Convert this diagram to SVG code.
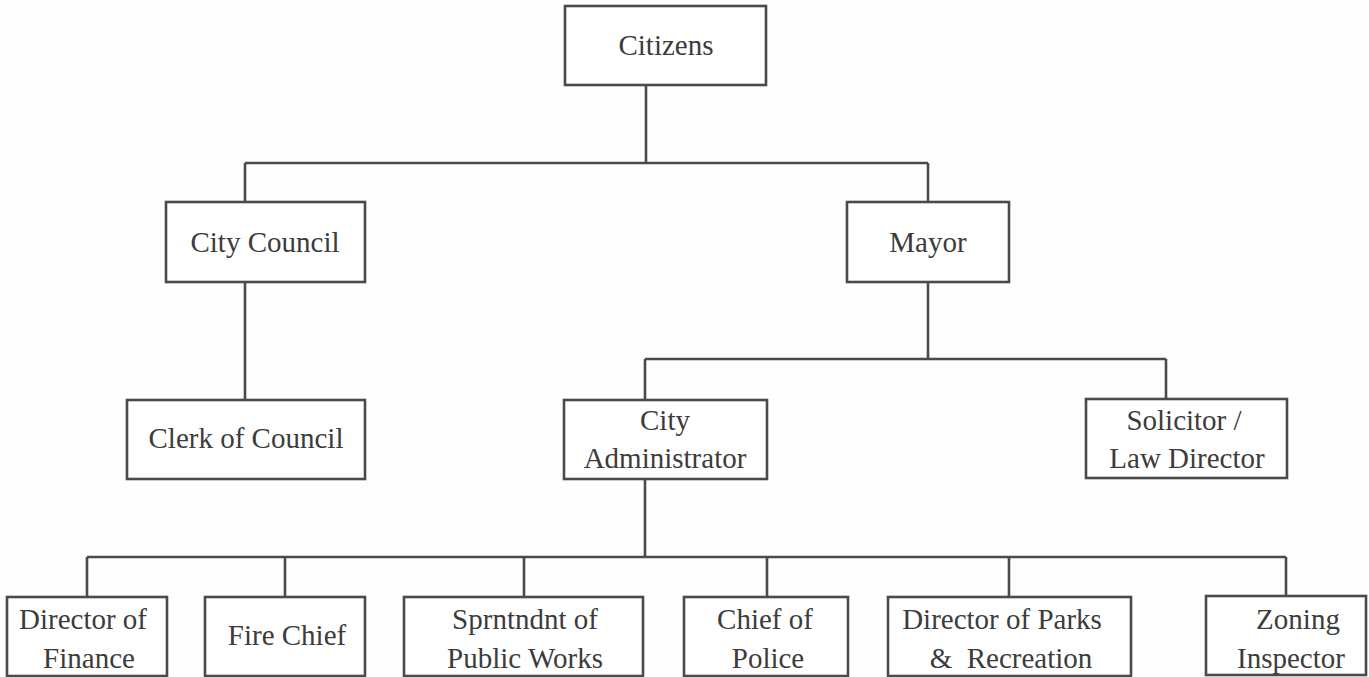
<svg xmlns="http://www.w3.org/2000/svg" width="1369" height="677" viewBox="0 0 1369 677">
<style>
.box{fill:#ffffff;stroke:#4a4a4a;stroke-width:2.6}
.lbl{font-family:"Liberation Serif","Times New Roman",serif;font-size:29px;fill:#3c3c3c;text-anchor:middle}
.conn{fill:none;stroke:#4a4a4a;stroke-width:2.6}
</style>
<rect width="1369" height="677" fill="#fefefe"/>
<g id="connectors">
<path class="conn" d="M646,85 V163 M245,163 H928 M245,163 V202 M928,163 V202"/>
<path class="conn" d="M245,282 V400"/>
<path class="conn" d="M928,282 V359 M645,359 H1166 M645,359 V400 M1166,359 V399"/>
<path class="conn" d="M645,479 V557 M87,557 H1286 M87,557 V597 M285,557 V597 M524,557 V597 M767,557 V597 M1009,557 V597 M1286,557 V596"/>
</g>
<g id="citizens"><rect class="box" x="565" y="6" width="201" height="79"/><text class="lbl" x="666" y="55">Citizens</text></g>
<g id="city-council"><rect class="box" x="166" y="202" width="199" height="80"/><text class="lbl" x="265" y="252">City Council</text></g>
<g id="mayor"><rect class="box" x="847" y="202" width="162" height="80"/><text class="lbl" x="928" y="252">Mayor</text></g>
<g id="clerk"><rect class="box" x="127" y="400" width="238" height="79"/><text class="lbl" x="246" y="448">Clerk of Council</text></g>
<g id="city-administrator"><rect class="box" x="564" y="400" width="203" height="79"/><text class="lbl" x="665" y="430">City</text><text class="lbl" x="665" y="468">Administrator</text></g>
<g id="solicitor"><rect class="box" x="1086" y="399" width="201" height="79"/><text class="lbl" x="1184" y="430">Solicitor /</text><text class="lbl" x="1187" y="468">Law Director</text></g>
<g id="director-finance"><rect class="box" x="7" y="597" width="160" height="79"/><text class="lbl" x="83" y="629">Director of</text><text class="lbl" x="89" y="668">Finance</text></g>
<g id="fire-chief"><rect class="box" x="205" y="597" width="160" height="79"/><text class="lbl" x="287" y="645">Fire Chief</text></g>
<g id="public-works"><rect class="box" x="404" y="597" width="239" height="79"/><text class="lbl" x="525" y="629">Sprntndnt of</text><text class="lbl" x="525" y="668">Public Works</text></g>
<g id="chief-police"><rect class="box" x="684" y="597" width="164" height="79"/><text class="lbl" x="765" y="629">Chief of</text><text class="lbl" x="768" y="668">Police</text></g>
<g id="parks"><rect class="box" x="888" y="597" width="243" height="79"/><text class="lbl" x="1002" y="629">Director of Parks</text><text class="lbl" x="1011" y="668" xml:space="preserve">&amp;  Recreation</text></g>
<g id="zoning"><rect class="box" x="1206" y="596" width="160" height="79"/><text class="lbl" x="1298" y="629">Zoning</text><text class="lbl" x="1291" y="668">Inspector</text></g>
</svg>
